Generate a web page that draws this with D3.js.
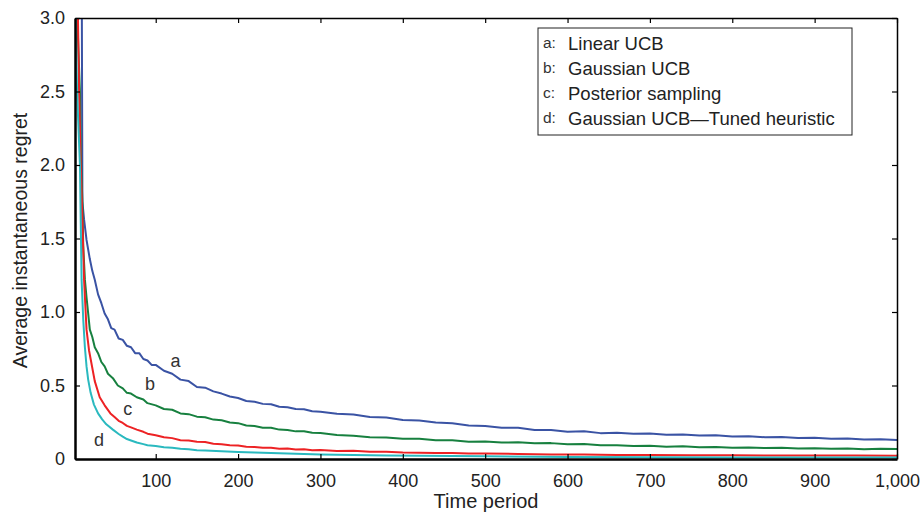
<!DOCTYPE html>
<html>
<head>
<meta charset="utf-8">
<script src="https://cdn.jsdelivr.net/npm/d3@7"></script>
<style>
  body { margin: 0; background: #fff; }
  text { font-family: "Liberation Sans", Arial, sans-serif; fill: #222; }
</style>
</head>
<body>
<svg id="chart" width="922" height="514"></svg>
<script>
// [time period, average instantaneous regret]
const linearUCB = [
  [10, 3.6], [11, 1.75], [13, 1.63], [16, 1.49], [20, 1.36], [23, 1.28], [26, 1.22],
  [30, 1.12], [34, 1.06], [38, 0.99], [42, 0.95], [46, 0.89], [50, 0.88], [55, 0.82],
  [60, 0.81], [65, 0.77], [70, 0.76], [75, 0.72], [80, 0.72], [85, 0.68], [90, 0.67],
  [95, 0.64], [100, 0.64], [110, 0.60], [120, 0.58], [130, 0.54], [140, 0.53], [150, 0.49],
  [160, 0.485], [170, 0.46], [180, 0.445], [190, 0.425], [200, 0.415], [210, 0.395],
  [220, 0.39], [230, 0.375], [240, 0.372], [250, 0.355], [260, 0.352], [270, 0.34],
  [280, 0.338], [290, 0.325], [300, 0.322], [320, 0.308], [340, 0.302], [360, 0.285],
  [380, 0.282], [400, 0.266], [420, 0.262], [440, 0.248], [460, 0.243], [480, 0.228],
  [500, 0.224], [520, 0.212], [540, 0.213], [560, 0.198], [580, 0.197], [600, 0.186],
  [620, 0.188], [640, 0.176], [660, 0.178], [680, 0.171], [700, 0.173], [720, 0.165],
  [740, 0.167], [760, 0.160], [780, 0.162], [800, 0.153], [820, 0.155], [840, 0.148],
  [860, 0.149], [880, 0.143], [900, 0.145], [920, 0.138], [940, 0.140], [960, 0.133],
  [980, 0.134], [1000, 0.13]
];

const gaussianUCB = [
  [4, 3.2], [6, 2.8], [8, 2.5], [9, 2.1], [10, 1.9], [11, 1.75], [12, 1.45], [14, 1.22],
  [16, 1.10], [18, 0.99], [20, 0.88], [23, 0.83], [26, 0.76], [30, 0.72], [34, 0.66],
  [38, 0.63], [42, 0.58], [48, 0.55], [54, 0.50], [60, 0.48], [65, 0.45], [70, 0.445],
  [77, 0.42], [85, 0.405], [90, 0.38], [100, 0.365], [110, 0.34], [120, 0.335], [130, 0.31],
  [140, 0.305], [150, 0.288], [160, 0.284], [170, 0.268], [180, 0.263], [190, 0.248],
  [200, 0.244], [210, 0.228], [220, 0.224], [230, 0.212], [240, 0.213], [250, 0.200],
  [260, 0.198], [270, 0.188], [280, 0.189], [290, 0.178], [300, 0.177], [320, 0.164],
  [340, 0.158], [360, 0.148], [380, 0.147], [400, 0.138], [420, 0.137], [440, 0.128],
  [460, 0.127], [480, 0.118], [500, 0.119], [520, 0.112], [540, 0.114], [560, 0.107],
  [580, 0.108], [600, 0.100], [620, 0.102], [640, 0.094], [660, 0.093], [680, 0.088],
  [700, 0.090], [720, 0.084], [740, 0.086], [760, 0.080], [780, 0.082], [800, 0.076],
  [820, 0.078], [840, 0.074], [860, 0.076], [880, 0.071], [900, 0.073], [920, 0.069],
  [940, 0.071], [960, 0.067], [980, 0.069], [1000, 0.068]
];

const posteriorSampling = [
  [5, 3.2], [7, 2.5], [9, 2.0], [11, 1.62], [13, 1.22], [16, 0.88], [19, 0.74], [22, 0.65],
  [26, 0.53], [32, 0.42], [38, 0.365], [45, 0.31], [50, 0.285], [55, 0.26], [60, 0.245],
  [65, 0.225], [70, 0.215], [77, 0.20], [85, 0.185], [90, 0.172], [100, 0.162], [110, 0.148],
  [120, 0.142], [130, 0.128], [140, 0.126], [150, 0.117], [160, 0.115], [170, 0.104],
  [180, 0.101], [190, 0.094], [200, 0.092], [210, 0.084], [220, 0.082], [230, 0.076],
  [240, 0.077], [250, 0.070], [260, 0.071], [270, 0.065], [280, 0.066], [290, 0.060],
  [300, 0.061], [320, 0.055], [340, 0.056], [360, 0.049], [380, 0.050], [400, 0.044],
  [420, 0.043], [440, 0.040], [460, 0.041], [480, 0.037], [500, 0.038], [540, 0.034],
  [580, 0.031], [620, 0.030], [660, 0.028], [700, 0.027], [750, 0.026], [800, 0.025],
  [850, 0.024], [900, 0.024], [950, 0.023], [1000, 0.022]
];

const tunedHeuristic = [
  [2, 3.2], [4.5, 2.5], [8, 2.0], [9, 1.6], [10, 1.22], [12, 0.95], [14, 0.76], [16, 0.63],
  [18, 0.54], [21, 0.45], [25, 0.37], [30, 0.31], [35, 0.27], [40, 0.236], [48, 0.20],
  [55, 0.17], [60, 0.152], [65, 0.136], [70, 0.126], [77, 0.112], [85, 0.101], [90, 0.094],
  [100, 0.089], [110, 0.080], [120, 0.076], [130, 0.069], [140, 0.066], [150, 0.060],
  [160, 0.057], [180, 0.052], [200, 0.048], [220, 0.044], [240, 0.040], [260, 0.037],
  [280, 0.034], [300, 0.031], [340, 0.027], [380, 0.024], [420, 0.022], [460, 0.020],
  [500, 0.018], [600, 0.014], [700, 0.012], [800, 0.011], [900, 0.010], [1000, 0.010]
];

const seriesNames = ["Linear UCB", "Gaussian UCB", "Posterior sampling", "Gaussian UCB\u2014Tuned heuristic"];
const seriesKeys = ["a", "b", "c", "d"];
const seriesColors = ["#3a53a4", "#17803f", "#ed2224", "#2ab9bf"];
const seriesData = [linearUCB, gaussianUCB, posteriorSampling, tunedHeuristic];

const xTicks = [100, 200, 300, 400, 500, 600, 700, 800, 900, 1000];
const yTicks = [0, 0.5, 1.0, 1.5, 2.0, 2.5, 3.0];

// curve labels: [time period, regret] where the letter sits
const curveLabels = [[124, 0.66], [93, 0.50], [66, 0.33], [31, 0.12]];

const svg = d3.select("#chart");
const plot = { left: 75, right: 897, top: 18, bottom: 459 };

const x = d3.scaleLinear().domain([2, 1000]).range([plot.left, plot.right]);
const y = d3.scaleLinear().domain([0, 3]).range([plot.bottom, plot.top]);

svg.append("defs").append("clipPath").attr("id", "plot")
  .append("rect")
  .attr("x", plot.left).attr("y", plot.top)
  .attr("width", plot.right - plot.left).attr("height", plot.bottom - plot.top);

const line = d3.line().x((d) => x(d[0])).y((d) => y(d[1]));

const lines = svg.append("g").attr("clip-path", "url(#plot)");
seriesData.forEach((data, i) => {
  lines.append("path")
    .datum(data)
    .attr("d", line)
    .attr("fill", "none")
    .attr("stroke", seriesColors[i])
    .attr("stroke-width", 2)
    .attr("stroke-linejoin", "round");
});

// curve letters
curveLabels.forEach((p, i) => {
  svg.append("text")
    .attr("x", x(p[0]))
    .attr("y", y(p[1]))
    .attr("text-anchor", "middle")
    .attr("dominant-baseline", "middle")
    .style("font-size", "18px")
    .style("fill", "#333")
    .text(seriesKeys[i]);
});

// axes, ticks inward on all four sides
const fmtX = d3.format(",");
const fmtY = (d) => (d === 0 ? "0" : d.toFixed(1));

svg.append("g")
  .attr("transform", `translate(0,${plot.bottom})`)
  .call(d3.axisBottom(x).tickValues(xTicks).tickSizeInner(-5).tickSizeOuter(0).tickPadding(15).tickFormat(fmtX))
  .call((g) => g.select(".domain").attr("stroke-width", 2.5));

svg.append("g")
  .attr("transform", `translate(0,${plot.top})`)
  .call(d3.axisTop(x).tickValues(xTicks).tickSizeInner(-5).tickSizeOuter(0).tickFormat(""))
  .call((g) => g.select(".domain").attr("stroke-width", 1.5));

svg.append("g")
  .attr("transform", `translate(${plot.left},0)`)
  .call(d3.axisLeft(y).tickValues(yTicks).tickSizeInner(-5).tickSizeOuter(0).tickPadding(10).tickFormat(fmtY))
  .call((g) => g.select(".domain").attr("stroke-width", 2.5));

svg.append("g")
  .attr("transform", `translate(${plot.right},0)`)
  .call(d3.axisRight(y).tickValues(yTicks).tickSizeInner(-5).tickSizeOuter(0).tickFormat(""))
  .call((g) => g.select(".domain").attr("stroke-width", 1.5));

svg.selectAll(".tick text")
  .style("font-size", "18px")
  .style("font-family", "Liberation Sans, Arial, sans-serif")
  .attr("fill", "#222");
svg.selectAll(".tick line").attr("stroke-width", 1.2);

// axis titles
svg.append("text")
  .attr("x", (plot.left + plot.right) / 2)
  .attr("y", 508)
  .attr("text-anchor", "middle")
  .style("font-size", "20px")
  .text("Time period");

svg.append("text")
  .attr("transform", `translate(27,${(plot.top + plot.bottom) / 2 + 2}) rotate(-90)`)
  .attr("text-anchor", "middle")
  .style("font-size", "19.5px")
  .text("Average instantaneous regret");

// legend box
const legend = svg.append("g").attr("transform", "translate(538,28)");
legend.append("rect")
  .attr("width", 314).attr("height", 107)
  .attr("fill", "#fff")
  .attr("stroke", "#222")
  .attr("stroke-width", 1);

seriesNames.forEach((name, i) => {
  legend.append("text")
    .attr("x", 5).attr("y", 20 + i * 25)
    .style("font-size", "15.5px")
    .style("fill", "#333")
    .text(seriesKeys[i] + ":");
  legend.append("text")
    .attr("x", 30).attr("y", 22 + i * 25)
    .style("font-size", "18.5px")
    .style("fill", "#222")
    .text(name);
});
</script>
</body>
</html>
